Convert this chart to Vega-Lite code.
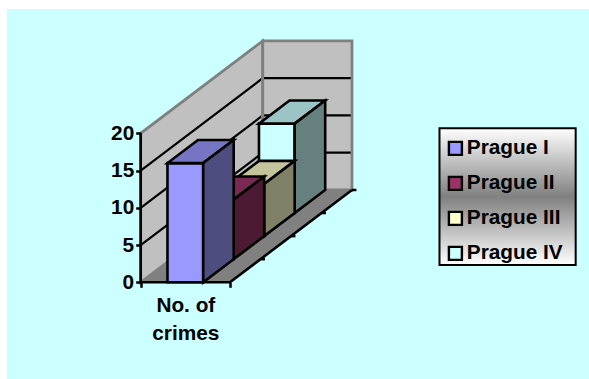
{
  "$schema": "https://vega.github.io/schema/vega-lite/v6.json",
  "width": 582,
  "height": 370,
  "padding": {"left": 7, "top": 9, "right": 0, "bottom": 0},
  "autosize": {"type": "none"},
  "background": "white",
  "view": {"fill": "#CCFFFF", "stroke": null},
  "params": [
    {"name": "depthX", "value": 1.366},
    {"name": "depthY", "value": 12.39}
  ],
  "datasets": {
    "crimes": [
      {"district": "Prague IV", "crimes": 12},
      {"district": "Prague III", "crimes": 7},
      {"district": "Prague II", "crimes": 8},
      {"district": "Prague I", "crimes": 16}
    ],
    "planes": [{"plane": "side"}, {"plane": "back"}, {"plane": "floor"}],
    "levels": [{"level": 5}, {"level": 10}, {"level": 15}],
    "slots": [{"slot": 0.25}, {"slot": 0.5}, {"slot": 0.75}, {"slot": 1}]
  },
  "encoding": {
    "x": {
      "type": "quantitative",
      "scale": {"domain": [-1.497, 5.0202], "nice": false, "zero": false},
      "axis": {
        "orient": "bottom",
        "offset": -96.7,
        "title": null,
        "grid": false,
        "domain": false,
        "values": [0, 0.5, 1],
        "labelExpr": "datum.value===0.5 ? ['No. of','crimes'] : ''",
        "labelFont": "Liberation Sans",
        "labelFontWeight": "bold",
        "labelFontSize": 20.8,
        "labelColor": "black",
        "labelLineHeight": 28,
        "labelPadding": 8,
        "labelOverlap": false,
        "labelFlush": false,
        "labelBound": false,
        "tickColor": "black",
        "tickWidth": 2.5,
        "tickSize": 5,
        "tickOpacity": {"expr": "datum.value===0.5 ? 0 : 1"},
        "zindex": 1
      }
    },
    "y": {
      "type": "quantitative",
      "scale": {"domain": [-12.98, 36.68], "nice": false, "zero": false},
      "axis": {
        "orient": "left",
        "offset": -133.7,
        "title": null,
        "grid": false,
        "domain": false,
        "values": [0, 5, 10, 15, 20],
        "labelFont": "Liberation Sans",
        "labelFontWeight": "bold",
        "labelFontSize": 20.8,
        "labelColor": "black",
        "labelPadding": 2,
        "labelOverlap": false,
        "labelFlush": false,
        "labelBound": false,
        "tickColor": "black",
        "tickWidth": 2.5,
        "tickSize": 5,
        "zindex": 1
      }
    }
  },
  "layer": [
    {
      "data": {"name": "planes"},
      "transform": [
        {"calculate": "[0,1,2,3]", "as": "corner"},
        {"flatten": ["corner"]},
        {"calculate": "datum.plane==='side' ? [0,0,depthX,depthX][datum.corner] : datum.plane==='back' ? [depthX,depthX,depthX+1,depthX+1][datum.corner] : [0,1,depthX+1,depthX][datum.corner]", "as": "px"},
        {"calculate": "datum.plane==='side' ? [0,20,20+depthY,depthY][datum.corner] : datum.plane==='back' ? [depthY,20+depthY,20+depthY,depthY][datum.corner] : [0,0,depthY,depthY][datum.corner]", "as": "py"}
      ],
      "mark": {"type": "line", "filled": true, "interpolate": "linear-closed", "strokeWidth": 0},
      "encoding": {
        "x": {"field": "px", "type": "quantitative"},
        "y": {"field": "py", "type": "quantitative"},
        "order": {"field": "corner"},
        "detail": {"field": "plane"},
        "fill": {"condition": {"test": "datum.plane==='floor'", "value": "#808080"}, "value": "#C0C0C0"}
      }
    },
    {
      "data": {"name": "levels"},
      "transform": [
        {"calculate": "[0,1,2]", "as": "knot"},
        {"flatten": ["knot"]},
        {"calculate": "[0,depthX,depthX+1][datum.knot]", "as": "px"},
        {"calculate": "datum.level+[0,depthY,depthY][datum.knot]", "as": "py"}
      ],
      "mark": {"type": "line", "stroke": "black", "strokeWidth": 2.2},
      "encoding": {
        "x": {"field": "px", "type": "quantitative"},
        "y": {"field": "py", "type": "quantitative"},
        "order": {"field": "knot"},
        "detail": {"field": "level"}
      }
    },
    {
      "data": {"name": "planes"},
      "transform": [
        {"filter": "datum.plane!=='floor'"},
        {"calculate": "[0,1,2,3]", "as": "corner"},
        {"flatten": ["corner"]},
        {"calculate": "datum.plane==='side' ? [0,0,depthX,depthX][datum.corner] : [depthX,depthX,depthX+1,depthX+1][datum.corner]", "as": "px"},
        {"calculate": "datum.plane==='side' ? [0,20,20+depthY,depthY][datum.corner] : [depthY,20+depthY,20+depthY,depthY][datum.corner]", "as": "py"}
      ],
      "mark": {"type": "line", "interpolate": "linear-closed", "stroke": "#808080", "strokeWidth": 2.8},
      "encoding": {
        "x": {"field": "px", "type": "quantitative"},
        "y": {"field": "py", "type": "quantitative"},
        "order": {"field": "corner"},
        "detail": {"field": "plane"}
      }
    },
    {
      "data": {"name": "slots"},
      "transform": [
        {"calculate": "[0,1]", "as": "end"},
        {"flatten": ["end"]},
        {"calculate": "1+depthX*datum.slot+datum.end*0.05", "as": "px"},
        {"calculate": "depthY*datum.slot", "as": "py"}
      ],
      "mark": {"type": "line", "stroke": "black", "strokeWidth": 2.5},
      "encoding": {
        "x": {"field": "px", "type": "quantitative"},
        "y": {"field": "py", "type": "quantitative"},
        "order": {"field": "end"},
        "detail": {"field": "slot"}
      }
    },
    {
      "data": {"name": "crimes"},
      "transform": [
        {"calculate": "indexof(['Prague I','Prague II','Prague III','Prague IV'],datum.district)*0.25", "as": "near"},
        {"calculate": "['front','top','side']", "as": "face"},
        {"flatten": ["face"]},
        {"calculate": "[0,1,2,3]", "as": "corner"},
        {"flatten": ["corner"]},
        {"calculate": "datum.district+'|'+datum.face", "as": "paint"},
        {"calculate": "0.3", "as": "barLeft"},
        {"calculate": "0.7", "as": "barRight"},
        {"calculate": "datum.near+0.25", "as": "far"},
        {"calculate": "datum.face==='front' ? [datum.barLeft,datum.barRight,datum.barRight,datum.barLeft][datum.corner]+datum.near*depthX : datum.face==='top' ? [datum.barLeft+datum.near*depthX,datum.barRight+datum.near*depthX,datum.barRight+datum.far*depthX,datum.barLeft+datum.far*depthX][datum.corner] : datum.barRight+[datum.near,datum.far,datum.far,datum.near][datum.corner]*depthX", "as": "px"},
        {"calculate": "datum.face==='front' ? [datum.crimes,datum.crimes,0,0][datum.corner]+datum.near*depthY : datum.face==='top' ? datum.crimes+[datum.near,datum.near,datum.far,datum.far][datum.corner]*depthY : [datum.crimes,datum.crimes,0,0][datum.corner]+[datum.near,datum.far,datum.far,datum.near][datum.corner]*depthY", "as": "py"}
      ],
      "mark": {"type": "line", "filled": true, "interpolate": "linear-closed", "stroke": "black", "strokeWidth": 2.6, "strokeJoin": "miter"},
      "encoding": {
        "x": {"field": "px", "type": "quantitative"},
        "y": {"field": "py", "type": "quantitative"},
        "order": {"field": "corner"},
        "color": {
          "field": "paint",
          "type": "nominal",
          "sort": null,
          "scale": {
            "domain": [
              "Prague I|front", "Prague II|front", "Prague III|front", "Prague IV|front",
              "Prague I|top", "Prague II|top", "Prague III|top", "Prague IV|top",
              "Prague I|side", "Prague II|side", "Prague III|side", "Prague IV|side"
            ],
            "range": [
              "#9999FF", "#993366", "#FFFFCC", "#CCFFFF",
              "#7575C4", "#7A2952", "#C4C49C", "#9CC4C4",
              "#4D4D80", "#4D1A33", "#808066", "#668080"
            ]
          },
          "legend": {
            "title": null,
            "orient": "none",
            "legendX": 430,
            "legendY": 121,
            "values": ["Prague I|front", "Prague II|front", "Prague III|front", "Prague IV|front"],
            "labelExpr": "split(datum.label,'|')[0]",
            "symbolType": "square",
            "symbolSize": 169,
            "symbolStrokeColor": "black",
            "symbolStrokeWidth": 2.4,
            "labelFont": "Liberation Sans",
            "labelFontWeight": "bold",
            "labelFontSize": 20.8,
            "labelColor": "black",
            "labelOffset": 1,
            "rowPadding": 12,
            "padding": 8
          }
        }
      }
    },
    {
      "data": {"values": [{"edge": "floor"}]},
      "transform": [
        {"calculate": "[0,1,2]", "as": "knot"},
        {"flatten": ["knot"]},
        {"calculate": "[0,1,1+depthX][datum.knot]", "as": "px"},
        {"calculate": "[0,0,depthY][datum.knot]", "as": "py"}
      ],
      "mark": {"type": "line", "stroke": "black", "strokeWidth": 2.6},
      "encoding": {
        "x": {"field": "px", "type": "quantitative"},
        "y": {"field": "py", "type": "quantitative"},
        "order": {"field": "knot"}
      }
    },
    {
      "data": {"values": [{"axis": "value"}]},
      "mark": {"type": "rule", "stroke": "black", "strokeWidth": 2.6},
      "encoding": {
        "x": {"datum": 0, "type": "quantitative"},
        "y": {"datum": 0, "type": "quantitative"},
        "y2": {"datum": 20}
      }
    },
    {
      "data": {"values": [{"box": "legend backing"}]},
      "mark": {
        "type": "rect",
        "stroke": "black",
        "strokeWidth": 2,
        "fill": {
          "gradient": "linear",
          "x1": 0, "y1": 0, "x2": 0, "y2": 1,
          "stops": [
            {"offset": 0, "color": "#FFFFFF"},
            {"offset": 0.5, "color": "#808080"},
            {"offset": 1, "color": "#FFFFFF"}
          ]
        }
      },
      "encoding": {
        "x": {"datum": 3.346, "type": "quantitative"},
        "x2": {"datum": 4.871},
        "y": {"datum": 20.67, "type": "quantitative"},
        "y2": {"datum": 2.32}
      }
    }
  ]
}
